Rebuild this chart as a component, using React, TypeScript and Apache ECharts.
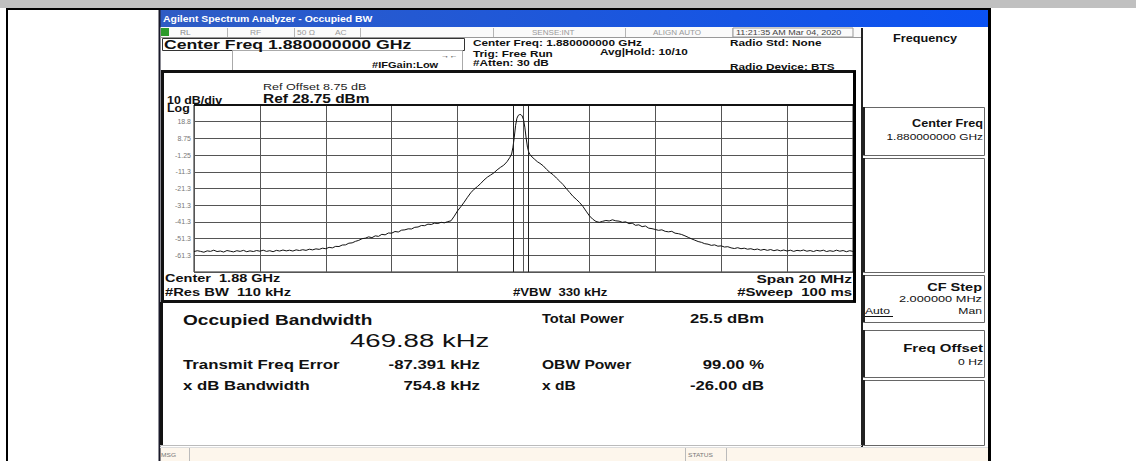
import React, { useEffect, useRef } from "react";
import * as echarts from "echarts";

// Trace points [frequency offset from centre (MHz), level (dBm)]
const leftSkirt: [number, number][] = [
  [-10.0, -59.0], [-9.9, -58.5], [-9.8, -58.9], [-9.7, -59.4], [-9.6, -58.6], [-9.5, -58.9], [-9.4, -58.2],
  [-9.3, -59.0], [-9.2, -58.7], [-9.1, -59.3], [-9.0, -58.4], [-8.9, -58.8], [-8.8, -59.2], [-8.7, -58.5],
  [-8.6, -58.9], [-8.5, -58.3], [-8.4, -59.1], [-8.3, -58.6], [-8.2, -59.0], [-8.1, -58.4], [-8.0, -58.8],
  [-7.9, -58.2], [-7.8, -58.9], [-7.7, -58.5], [-7.6, -59.1], [-7.5, -58.3], [-7.4, -58.7], [-7.3, -58.1],
  [-7.2, -58.6], [-7.1, -58.2], [-7.0, -58.7], [-6.9, -58.0], [-6.8, -58.4], [-6.7, -57.9], [-6.6, -58.3],
  [-6.5, -57.6], [-6.4, -58.0], [-6.3, -57.4], [-6.2, -57.7], [-6.1, -57.0], [-6.0, -57.3], [-5.9, -56.5],
  [-5.8, -56.8], [-5.7, -55.9], [-5.6, -56.0], [-5.5, -55.1], [-5.4, -55.0], [-5.3, -54.0], [-5.2, -53.8],
  [-5.1, -52.9], [-5.0, -52.3], [-4.9, -51.3], [-4.8, -51.0], [-4.7, -50.2], [-4.6, -50.7], [-4.5, -49.6],
  [-4.4, -49.9], [-4.3, -48.7], [-4.2, -49.0], [-4.1, -47.9], [-4.0, -48.0], [-3.9, -47.0], [-3.8, -47.3],
  [-3.7, -46.2], [-3.6, -46.0], [-3.5, -45.4], [-3.4, -45.5], [-3.3, -44.5], [-3.2, -44.3], [-3.1, -43.4],
  [-3.0, -43.5], [-2.9, -42.6], [-2.8, -42.8], [-2.7, -42.0], [-2.6, -42.2], [-2.5, -41.5], [-2.4, -41.8],
  [-2.3, -41.1],
];
const mainLobe: [number, number][] = [
  [-2.2, -40.6], [-2.1, -37.8], [-2.0, -34.6], [-1.9, -32.1], [-1.8, -29.4], [-1.7, -26.5], [-1.6, -23.8],
  [-1.5, -21.7], [-1.4, -20.1], [-1.3, -18.3], [-1.2, -16.2], [-1.1, -14.5], [-1.0, -13.2], [-0.9, -11.9],
  [-0.8, -10.1], [-0.7, -8.6], [-0.6, -7.3], [-0.5, -5.2], [-0.42, -2.8], [-0.36, -0.6], [-0.32, 3.5],
  [-0.28, 9.5], [-0.24, 16.5], [-0.2, 20.8], [-0.16, 22.5], [-0.12, 23.0], [-0.08, 23.0], [-0.04, 22.2],
  [0.0, 20.0], [0.04, 15.5], [0.08, 9.0], [0.12, 3.5], [0.16, 0.5], [0.2, -1.0], [0.26, -2.4], [0.34, -3.8],
  [0.42, -5.2], [0.5, -6.2], [0.6, -7.7], [0.7, -9.8], [0.8, -11.6], [0.9, -13.0], [1.0, -15.0], [1.1, -16.9],
  [1.2, -18.9], [1.3, -21.3], [1.4, -23.6], [1.5, -25.9], [1.6, -27.7], [1.7, -29.6], [1.8, -31.9],
  [1.9, -34.8], [2.0, -37.6], [2.1, -39.6], [2.2, -41.0], [2.3, -41.5],
];
const rightSkirt: [number, number][] = [
  [2.4, -40.9], [2.5, -40.4], [2.6, -40.7], [2.7, -40.0], [2.8, -40.6], [2.9, -40.8], [3.0, -41.5],
  [3.1, -41.2], [3.2, -42.3], [3.3, -42.0], [3.4, -43.3], [3.5, -43.0], [3.6, -44.1], [3.7, -43.7],
  [3.8, -45.0], [3.9, -45.3], [4.0, -45.8], [4.1, -46.3], [4.2, -46.0], [4.3, -46.9], [4.4, -47.2],
  [4.5, -46.9], [4.6, -48.0], [4.7, -48.3], [4.8, -48.8], [4.9, -49.6], [5.0, -50.5], [5.1, -51.4],
  [5.2, -52.2], [5.3, -53.0], [5.4, -53.5], [5.5, -54.3], [5.6, -54.6], [5.7, -55.3], [5.8, -55.0],
  [5.9, -55.8], [6.0, -55.6], [6.1, -56.3], [6.2, -56.1], [6.3, -56.8], [6.4, -57.2], [6.5, -56.7],
  [6.6, -57.3], [6.7, -57.0], [6.8, -57.6], [6.9, -57.3], [7.0, -57.9], [7.1, -57.5], [7.2, -58.2],
  [7.3, -57.7], [7.4, -58.3], [7.5, -57.8], [7.6, -58.5], [7.7, -58.0], [7.8, -58.6], [7.9, -58.1],
  [8.0, -58.7], [8.1, -58.2], [8.2, -58.9], [8.3, -58.3], [8.4, -58.6], [8.5, -58.1], [8.6, -58.8],
  [8.7, -58.4], [8.8, -59.0], [8.9, -58.3], [9.0, -58.7], [9.1, -58.2], [9.2, -59.0], [9.3, -58.5],
  [9.4, -58.9], [9.5, -58.2], [9.6, -58.8], [9.7, -58.4], [9.8, -59.1], [9.9, -58.5], [10.0, -58.9],
];

const yTicks = [-71.25, -61.25, -51.25, -41.25, -31.25, -21.25, -11.25, -1.25, 8.75, 18.75, 28.75];
const yTickLabels = ["", "-61.3", "-51.3", "-41.3", "-31.3", "-21.3", "-11.3", "-1.25", "8.75", "18.8", ""];

const obwKHz = 469.88;
const txFreqErrKHz = -87.391;

const FONT = '"Liberation Sans", Arial, Helvetica, sans-serif';

type TOpt = { bold?: boolean; align?: string; color?: string; sx?: number };
function txt(text: string, x: number, y: number, size: number, o: TOpt = {}) {
  return {
    type: "text",
    x,
    y,
    scaleX: o.sx ?? 1.36,
    z: 50,
    style: {
      text,
      fill: o.color ?? "#111",
      font: `${o.bold === false ? "normal" : "bold"} ${size}px ${FONT}`,
      align: o.align ?? "left",
      verticalAlign: "middle",
    },
  };
}
function ln(x1: number, y1: number, x2: number, y2: number, color = "#000", w = 1) {
  return { type: "line", z: 40, shape: { x1, y1, x2, y2 }, style: { stroke: color, lineWidth: w } };
}
function box(x: number, y: number, w: number, h: number, stroke: string, fill: string | null = null, lw = 1) {
  return {
    type: "rect",
    z: 30,
    shape: { x, y, width: w, height: h },
    style: { stroke, fill: fill ?? "transparent", lineWidth: lw },
  };
}

export default function App() {
  const ref = useRef<HTMLDivElement>(null);
  useEffect(() => {
    if (!ref.current) return;
    const chart = echarts.init(ref.current, null, { renderer: "svg" });
    const obwLow = (txFreqErrKHz - obwKHz / 2) / 1000;
    const obwHigh = (txFreqErrKHz + obwKHz / 2) / 1000;
    const trace = [...leftSkirt, ...mainLobe, ...rightSkirt];

    const statusSeps = [227, 294, 360, 493, 625, 732];
    const rightBoxes = [
      [107, 48],
      [158, 114],
      [275, 47],
      [330, 47],
      [380, 65],
    ];

    const graphic: any[] = [
      { type: "rect", z: 5, shape: { x: 0, y: 0, width: 1136, height: 8 }, style: { fill: "#c0c0c0" } },
      ln(6, 9, 991, 9, "#000", 2),
      ln(7, 8, 7, 461, "#000", 2),
      ln(989.5, 8, 989.5, 461, "#000", 3),
      ln(159.5, 10, 159.5, 461, "#1a1a2a", 2),
      {
        type: "rect",
        z: 10,
        shape: { x: 160, y: 10, width: 828, height: 17 },
        style: {
          fill: new echarts.graphic.LinearGradient(0, 0, 1, 0, [
            { offset: 0, color: "#2f5cc4" },
            { offset: 1, color: "#0b52f2" },
          ]),
        },
      },
      txt("Agilent Spectrum Analyzer - Occupied BW", 163, 19, 9.5, { color: "#ffffff", sx: 1.1 }),
      // status row
      { type: "rect", z: 10, shape: { x: 160, y: 27, width: 702, height: 10 }, style: { fill: "#fafafa" } },
      ln(160, 37.5, 862, 37.5, "#999", 1),
      ...statusSeps.map((x) => ln(x + 0.5, 28, x + 0.5, 37, "#b5b5b5", 1)),
      box(733, 28, 120, 9, "#999", null, 1),
      { type: "rect", z: 35, shape: { x: 161, y: 28, width: 8, height: 8 }, style: { fill: "#2c9a2c" } },
      txt("RL", 180, 32.5, 7, { bold: false, color: "#888", sx: 1.2 }),
      txt("RF", 250, 32.5, 7, { bold: false, color: "#999", sx: 1.2 }),
      txt("50 Ω", 297, 32.5, 7, { bold: false, color: "#999", sx: 1.2 }),
      txt("AC", 335, 32.5, 7, { bold: false, color: "#999", sx: 1.2 }),
      txt("SENSE:INT", 532, 32.5, 7, { bold: false, color: "#999", sx: 1.15 }),
      txt("ALIGN AUTO", 653, 32.5, 7, { bold: false, color: "#999", sx: 1.15 }),
      txt("11:21:35 AM Mar 04, 2020", 736, 32.5, 7.5, { bold: false, color: "#444", sx: 1.2 }),
      // Center freq boxes
      box(162.5, 38.5, 302, 12, "#333", "#fff", 1),
      box(232.5, 50.5, 230, 21, "#aaa", "#fff", 1),
      txt("Center Freq 1.880000000 GHz", 164, 44.5, 13, { sx: 1.36 }),
      txt("#IFGain:Low", 372, 65, 8.5, { sx: 1.3 }),
      txt("→←", 441, 56, 7, { bold: false, color: "#333", sx: 1.2 }),
      txt("Center Freq: 1.880000000 GHz", 473, 43, 9, { sx: 1.31 }),
      txt("Trig: Free Run", 473, 54, 9, { sx: 1.31 }),
      txt("#Atten: 30 dB", 473, 63, 9, { sx: 1.31 }),
      txt("Avg|Hold: 10/10", 600, 52, 9, { sx: 1.31 }),
      txt("Radio Std: None", 730, 43, 9, { sx: 1.31 }),
      txt("Radio Device: BTS", 730, 67, 9, { sx: 1.31 }),
      // right panel
      ln(862, 28, 862, 447, "#222", 2),
      ...rightBoxes.map(([y, h]) => box(863.5, y + 0.5, 121, h, "#666", null, 1)),
      ...rightBoxes.map(([y, h]) => ln(864, y, 864, y + h, "#222", 2)),
      txt("Frequency", 893, 39, 10, { sx: 1.27 }),
      txt("Center Freq", 983, 123, 11, { align: "right", sx: 1.15 }),
      txt("1.880000000 GHz", 983, 137, 8.5, { align: "right", bold: false, sx: 1.4 }),
      txt("CF Step", 982, 287, 11, { align: "right", sx: 1.32 }),
      txt("2.000000 MHz", 982, 299, 9, { align: "right", bold: false, sx: 1.42 }),
      txt("Auto", 865, 311, 9, { bold: false, sx: 1.35 }),
      ln(865, 316.5, 893, 316.5, "#111", 1),
      txt("Man", 982, 311, 9, { align: "right", bold: false, sx: 1.35 }),
      txt("Freq Offset", 983, 348, 11, { align: "right", sx: 1.36 }),
      txt("0 Hz", 983, 362, 9, { align: "right", bold: false, sx: 1.35 }),
      // plot frame
      box(162.5, 71.5, 692, 230, "#111", null, 3),
      ln(194, 105, 853, 105, "#111", 2),
      ln(854.5, 71, 854.5, 302, "#000", 3),
      txt("Ref Offset 8.75 dB", 263, 87, 9, { bold: false, color: "#222", sx: 1.4 }),
      txt("Ref 28.75 dBm", 263, 98.5, 12, { sx: 1.29 }),
      txt("10 dB/div", 167, 100, 10, { sx: 1.24 }),
      txt("Log", 167, 108.5, 10, { sx: 1.24 }),
      txt("Center  1.88 GHz", 165, 278.5, 11, { sx: 1.32 }),
      txt("#Res BW  110 kHz", 165, 292, 11, { sx: 1.34 }),
      txt("#VBW  330 kHz", 513, 292, 11, { sx: 1.2 }),
      txt("Span 20 MHz", 852, 279, 11, { align: "right", sx: 1.41 }),
      txt("#Sweep  100 ms", 852, 292, 11, { align: "right", sx: 1.36 }),
      // results
      ln(161.5, 302, 161.5, 446, "#111", 3),
      ln(160, 445.5, 862, 445.5, "#bbb", 1),
      txt("Occupied Bandwidth", 183, 320.5, 14, { sx: 1.36 }),
      txt("469.88 kHz", 350, 341, 19, { bold: false, sx: 1.45 }),
      txt("Transmit Freq Error", 183, 365, 12, { sx: 1.4 }),
      txt("-87.391 kHz", 480, 365, 12, { align: "right", sx: 1.4 }),
      txt("x dB Bandwidth", 183, 386, 12, { sx: 1.4 }),
      txt("754.8 kHz", 480, 386, 12, { align: "right", sx: 1.4 }),
      txt("Total Power", 542, 318.5, 12, { sx: 1.22 }),
      txt("25.5 dBm", 690, 318.5, 12, { sx: 1.39 }),
      txt("OBW Power", 542, 365, 12, { sx: 1.3 }),
      txt("99.00 %", 764, 365, 12, { align: "right", sx: 1.39 }),
      txt("x dB", 542, 386, 12, { sx: 1.3 }),
      txt("-26.00 dB", 764, 386, 12, { align: "right", sx: 1.39 }),
      // status bar
      { type: "rect", z: 10, shape: { x: 160, y: 447, width: 828, height: 14 }, style: { fill: "#fdf6ec" } },
      ln(160, 447.5, 988, 447.5, "#ddd", 1),
      ln(189.5, 448, 189.5, 461, "#bbb", 1),
      ln(685.5, 448, 685.5, 461, "#bbb", 1),
      ln(726.5, 448, 726.5, 461, "#bbb", 1),
      txt("MSG", 161, 455, 6, { bold: false, color: "#777", sx: 1.1 }),
      txt("STATUS", 688, 455, 6, { bold: false, color: "#777", sx: 1.1 }),
    ];

    chart.setOption({
      animation: false,
      backgroundColor: "#ffffff",
      grid: { left: 194, right: 283, top: 105, bottom: 189, show: true, borderColor: "#222", borderWidth: 1 },
      xAxis: {
        type: "value",
        min: -10,
        max: 10,
        interval: 2,
        axisLine: { show: false },
        axisTick: { show: false },
        axisLabel: { show: false },
        splitLine: { show: true, lineStyle: { color: "#555", width: 1 } },
      },
      yAxis: {
        type: "value",
        min: -71.25,
        max: 28.75,
        interval: 10,
        axisLine: { show: false },
        axisTick: { show: false },
        axisLabel: {
          color: "#777",
          fontSize: 7,
          fontFamily: FONT,
          margin: 3,
          formatter: (v: number) => {
            const i = yTicks.findIndex((t) => Math.abs(t - v) < 0.01);
            return i >= 0 ? yTickLabels[i] : "";
          },
        },
        splitLine: { show: true, lineStyle: { color: "#555", width: 1 } },
      },
      series: [
        {
          type: "line",
          data: trace,
          showSymbol: false,
          symbol: "none",
          lineStyle: { color: "#111", width: 1 },
          markLine: {
            silent: true,
            symbol: ["none", "none"],
            label: { show: false },
            lineStyle: { color: "#222", width: 1, type: "solid" },
            data: [{ xAxis: obwLow }, { xAxis: obwHigh }],
          },
        },
      ],
      graphic,
    });
    return () => chart.dispose();
  }, []);
  return (
    <div
      ref={ref}
      style={{ position: "fixed", left: 0, top: 0, width: 1136, height: 461, background: "#fff" }}
    />
  );
}
